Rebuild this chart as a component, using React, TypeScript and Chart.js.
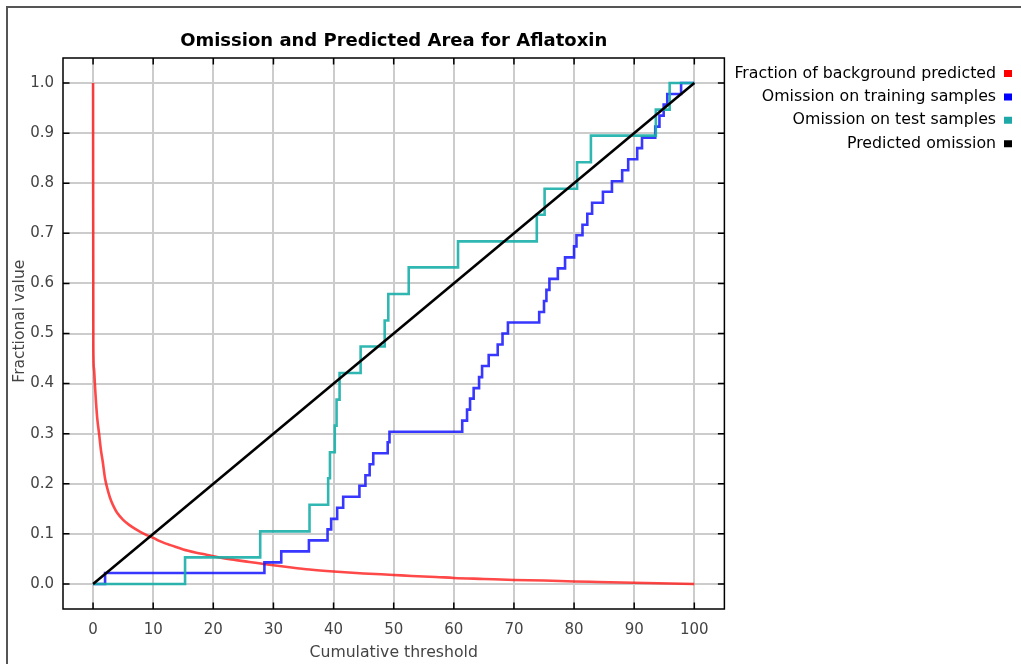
import React, { useEffect, useRef } from "react";
import { Chart, registerables } from "chart.js";

Chart.register(...registerables);

// Axis tick values
const X_TICKS = [0, 10, 20, 30, 40, 50, 60, 70, 80, 90, 100];
const Y_TICKS = [0, 0.1, 0.2, 0.3, 0.4, 0.5, 0.6, 0.7, 0.8, 0.9, 1.0];

// Fraction of background predicted
const BG_X = [0, 0.05, 0.15, 0.3, 0.45, 0.7, 1.0, 1.3, 1.6, 2.0, 2.5, 3.0, 3.5, 4.0, 5.0, 6.0, 7.0, 8.0, 9.0, 10, 11, 12, 13, 15, 17, 19, 21, 23, 26, 29, 33, 36, 40, 45, 50, 53, 57, 60, 65, 70, 75, 80, 84, 88, 92, 96, 100];
const BG_Y = [1.0, 0.47, 0.43, 0.40, 0.37, 0.33, 0.30, 0.268, 0.245, 0.21, 0.185, 0.166, 0.153, 0.142, 0.128, 0.118, 0.11, 0.103, 0.097, 0.092, 0.086, 0.081, 0.077, 0.069, 0.063, 0.058, 0.053, 0.049, 0.044, 0.039, 0.033, 0.029, 0.025, 0.021, 0.018, 0.016, 0.014, 0.012, 0.010, 0.008, 0.007, 0.005, 0.004, 0.003, 0.002, 0.001, 0.0];

// Omission on training samples (step levels)
const TRAIN_X = [0, 2.0, 28.5, 31.3, 35.9, 39.0, 39.6, 40.6, 41.6, 44.3, 45.3, 46.0, 46.6, 49.0, 49.3, 61.4, 62.2, 62.7, 63.3, 64.2, 64.7, 65.8, 67.3, 68.1, 69.0, 74.2, 75.0, 75.4, 75.9, 77.3, 78.5, 80.0, 80.4, 81.4, 82.2, 83.0, 84.8, 86.3, 88.0, 89.0, 90.5, 91.3, 93.5, 94.2, 94.9, 95.5, 97.8, 100];
const TRAIN_Y = [0, 0.022, 0.043, 0.065, 0.087, 0.109, 0.130, 0.152, 0.174, 0.196, 0.217, 0.239, 0.261, 0.283, 0.304, 0.326, 0.348, 0.370, 0.391, 0.413, 0.435, 0.457, 0.478, 0.500, 0.522, 0.543, 0.565, 0.587, 0.609, 0.630, 0.652, 0.674, 0.696, 0.717, 0.739, 0.761, 0.783, 0.804, 0.826, 0.848, 0.870, 0.891, 0.913, 0.935, 0.957, 0.978, 1.0, 1.0];

// Omission on test samples (step levels)
const TEST_X = [0, 15.3, 27.8, 36.0, 39.1, 39.4, 40.2, 40.5, 41.0, 44.5, 48.5, 49.1, 52.5, 60.7, 73.8, 75.1, 80.5, 82.8, 93.6, 95.9, 100];
const TEST_Y = [0, 0.053, 0.105, 0.158, 0.211, 0.263, 0.316, 0.368, 0.421, 0.474, 0.526, 0.579, 0.632, 0.684, 0.737, 0.789, 0.842, 0.895, 0.947, 1.0, 1.0];

// Predicted omission
const PRED_X = [0, 100];
const PRED_Y = [0, 1];

const SERIES_NAMES = [
  "Fraction of background predicted",
  "Omission on training samples",
  "Omission on test samples",
  "Predicted omission",
];
const LINE_COLORS = ["rgba(255,20,20,0.78)", "rgba(20,20,255,0.85)", "rgba(25,175,170,0.9)", "#000000"];
const KEY_COLORS = ["#ff0000", "#0000ff", "#1fa8a8", "#000000"];

const FONT_FAMILY = "'DejaVu Sans', sans-serif";

const toPoints = (xs: number[], ys: number[]) => xs.map((x, i) => ({ x, y: ys[i] }));

// Plot frame with inward tick marks on all four sides
const frameTicks = {
  id: "frameTicks",
  afterDatasetsDraw(chart: any) {
    const { ctx, chartArea: a, scales } = chart;
    const len = 6.5;
    ctx.save();
    ctx.strokeStyle = "#000";
    ctx.lineWidth = 1.5;
    ctx.strokeRect(a.left, a.top, a.right - a.left, a.bottom - a.top);
    ctx.beginPath();
    for (const v of X_TICKS) {
      const px = scales.x.getPixelForValue(v);
      ctx.moveTo(px, a.bottom);
      ctx.lineTo(px, a.bottom - len);
      ctx.moveTo(px, a.top);
      ctx.lineTo(px, a.top + len);
    }
    for (const v of Y_TICKS) {
      const py = scales.y.getPixelForValue(v);
      ctx.moveTo(a.left, py);
      ctx.lineTo(a.left + len, py);
      ctx.moveTo(a.right, py);
      ctx.lineTo(a.right - len, py);
    }
    ctx.stroke();
    ctx.restore();
  },
};

export default function App() {
  const canvasRef = useRef<HTMLCanvasElement | null>(null);

  useEffect(() => {
    if (!canvasRef.current) return;
    Chart.defaults.font.family = FONT_FAMILY;

    const base = { pointRadius: 0, pointHoverRadius: 0, borderWidth: 2.6, fill: false, tension: 0 };

    const chart = new Chart(canvasRef.current, {
      type: "line",
      data: {
        datasets: [
          { ...base, label: SERIES_NAMES[0], data: toPoints(BG_X, BG_Y), borderColor: LINE_COLORS[0], backgroundColor: KEY_COLORS[0], cubicInterpolationMode: "monotone", order: 3 },
          { ...base, label: SERIES_NAMES[1], data: toPoints(TRAIN_X, TRAIN_Y), borderColor: LINE_COLORS[1], backgroundColor: KEY_COLORS[1], stepped: true, order: 2 },
          { ...base, label: SERIES_NAMES[2], data: toPoints(TEST_X, TEST_Y), borderColor: LINE_COLORS[2], backgroundColor: KEY_COLORS[2], stepped: true, order: 1 },
          { ...base, label: SERIES_NAMES[3], data: toPoints(PRED_X, PRED_Y), borderColor: LINE_COLORS[3], backgroundColor: KEY_COLORS[3], order: 0 },
        ],
      },
      options: {
        animation: false,
        responsive: true,
        maintainAspectRatio: false,
        devicePixelRatio: 1,
        events: [],
        layout: { padding: { left: 0, right: 1.4, top: 0, bottom: 0 } },
        scales: {
          x: {
            type: "linear",
            min: -5,
            max: 105,
            afterBuildTicks: (s: any) => {
              s.ticks = X_TICKS.map((value) => ({ value }));
            },
            afterFit: (s: any) => {
              s.height = 55;
            },
            grid: { color: "#cccccc", lineWidth: 2, drawTicks: false },
            border: { display: false },
            ticks: {
              padding: 12,
              color: "#444",
              font: { size: 15 },
              maxRotation: 0,
              callback: (v: any) => String(v),
            },
            title: {
              display: true,
              text: "Cumulative threshold",
              color: "#444",
              font: { size: 15.7 },
              padding: { top: 0, bottom: 2 },
            },
          },
          y: {
            type: "linear",
            min: -0.05,
            max: 1.05,
            afterBuildTicks: (s: any) => {
              s.ticks = Y_TICKS.map((value) => ({ value }));
            },
            afterFit: (s: any) => {
              s.width = 63;
            },
            grid: { color: "#cccccc", lineWidth: 2, drawTicks: false },
            border: { display: false },
            ticks: {
              padding: 9,
              color: "#444",
              font: { size: 15 },
              callback: (v: any) => Number(v).toFixed(1),
            },
            title: {
              display: true,
              text: "     Fractional value",
              color: "#444",
              font: { size: 15.5 },
              padding: { top: 10.6, bottom: 0 },
            },
          },
        },
        plugins: {
          title: {
            display: true,
            text: "Omission and Predicted Area for Aflatoxin",
            fullSize: false,
            color: "#000",
            font: { size: 18, weight: "bold" },
            padding: { top: 31, bottom: 5.4 },
          },
          legend: {
            position: "right",
            align: "start",
            fullSize: false,
            rtl: true,
            maxWidth: 420,
            labels: {
              boxWidth: 8,
              boxHeight: 7,
              padding: 7.6,
              color: "#222",
              font: { size: 15.8 },
              generateLabels: () =>
                SERIES_NAMES.map((text, i) => ({
                  text,
                  fillStyle: KEY_COLORS[i],
                  strokeStyle: KEY_COLORS[i],
                  lineWidth: 0,
                  hidden: false,
                  datasetIndex: i,
                })),
            },
          },
          tooltip: { enabled: false },
        },
      },
      plugins: [frameTicks],
    } as any);

    return () => chart.destroy();
  }, []);

  return (
    <div style={{ position: "absolute", left: 0, top: 0, width: 1021, height: 664, background: "#fff" }}>
      <div
        style={{
          position: "absolute",
          left: 6,
          top: 6,
          right: 0,
          bottom: 0,
          borderTop: "2px solid #555",
          borderLeft: "2px solid #555",
        }}
      />
      <div style={{ position: "absolute", left: 0, top: 0, width: 1021, height: 664 }}>
        <canvas ref={canvasRef} />
      </div>
    </div>
  );
}
